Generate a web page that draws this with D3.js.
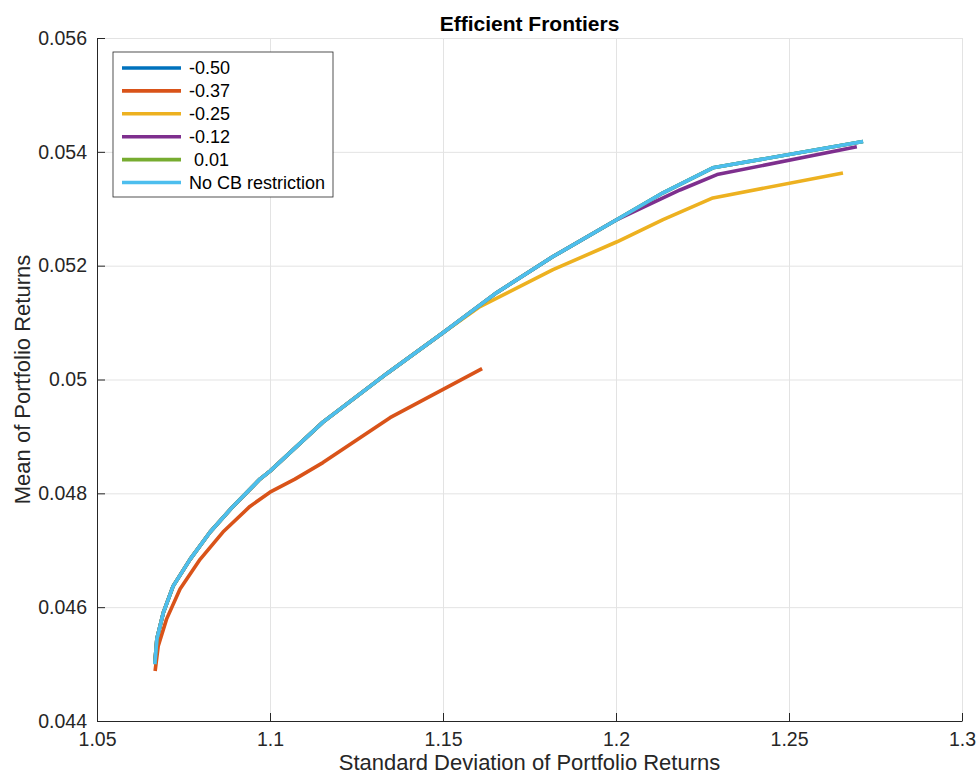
<!DOCTYPE html>
<html>
<head>
<meta charset="utf-8">
<script src="https://cdn.jsdelivr.net/npm/d3@7"></script>
<style>
  body { margin: 0; background: #fff; }
  svg { font-family: "Liberation Sans", Arial, Helvetica, sans-serif; }
  .grid line { stroke: #e3e3e3; stroke-width: 1; }
  .grid path { display: none; }
  .axis path, .axis line { stroke: #262626; }
  .axis text { fill: #262626; font-size: 19.5px; }
</style>
</head>
<body>
<svg id="chart" width="977" height="776"></svg>
<script>
// legend labels, in drawing order
const seriesNames = ["-0.50", "-0.37", "-0.25", "-0.12", " 0.01", "No CB restriction"];
const seriesColors = ["#0072BD", "#D95319", "#EDB120", "#7E2F8E", "#77AC30", "#4DBEEE"];

// No CB restriction frontier (std, mean)
const noCbStd = [1.0667, 1.0673, 1.0692, 1.0720, 1.0769, 1.0827, 1.0893, 1.0971, 1.1000, 1.1153, 1.1341, 1.1500, 1.1656, 1.1818, 1.2003, 1.2136, 1.2280, 1.2714];
const noCbMean = [0.04500, 0.04544, 0.04591, 0.04637, 0.04684, 0.04732, 0.04777, 0.04825, 0.04839, 0.04925, 0.05012, 0.05082, 0.05153, 0.05216, 0.05281, 0.05328, 0.05372, 0.05418];

// -0.50 and 0.01 lie under the No CB line
const m050Std = noCbStd.slice();
const m050Mean = noCbMean.slice();
const p001Std = noCbStd.slice();
const p001Mean = noCbMean.slice();

// -0.37
const m037Std = [1.0668, 1.0677, 1.0701, 1.0740, 1.0798, 1.0864, 1.0942, 1.1000, 1.1072, 1.1153, 1.1347, 1.1613];
const m037Mean = [0.04488, 0.04532, 0.04579, 0.04632, 0.04684, 0.04732, 0.04777, 0.04802, 0.04825, 0.04854, 0.04933, 0.05019];

// -0.25
const m025Std = [1.0667, 1.0673, 1.0692, 1.0720, 1.0769, 1.0827, 1.0893, 1.0971, 1.1000, 1.1153, 1.1341, 1.1500, 1.1607, 1.1818, 1.2003, 1.2136, 1.2280, 1.2656];
const m025Mean = [0.04500, 0.04544, 0.04591, 0.04637, 0.04684, 0.04732, 0.04777, 0.04825, 0.04839, 0.04925, 0.05012, 0.05082, 0.05128, 0.05193, 0.05242, 0.05281, 0.05319, 0.05363];

// -0.12
const m012Std = [1.0667, 1.0673, 1.0692, 1.0720, 1.0769, 1.0827, 1.0893, 1.0971, 1.1000, 1.1153, 1.1341, 1.1500, 1.1656, 1.1818, 1.2003, 1.2185, 1.2292, 1.2696];
const m012Mean = [0.04500, 0.04544, 0.04591, 0.04637, 0.04684, 0.04732, 0.04777, 0.04825, 0.04839, 0.04925, 0.05012, 0.05082, 0.05153, 0.05216, 0.05281, 0.05333, 0.05360, 0.05409];

const xTicks = [1.05, 1.1, 1.15, 1.2, 1.25, 1.3];
const yTicks = [0.044, 0.046, 0.048, 0.05, 0.052, 0.054, 0.056];

const seriesStd = [m050Std, m037Std, m025Std, m012Std, p001Std, noCbStd];
const seriesMean = [m050Mean, m037Mean, m025Mean, m012Mean, p001Mean, noCbMean];

const margin = { top: 38, right: 15, bottom: 55, left: 97 };
const width = 977 - margin.left - margin.right;
const height = 776 - margin.top - margin.bottom;

const svg = d3.select("#chart");
const g = svg.append("g").attr("transform", `translate(${margin.left},${margin.top})`);

const x = d3.scaleLinear().domain([1.05, 1.3]).range([0, width]);
const y = d3.scaleLinear().domain([0.044, 0.056]).range([height, 0]);

// grid
g.append("g").attr("class", "grid")
  .attr("transform", `translate(0,${height})`)
  .call(d3.axisBottom(x).tickValues(xTicks).tickSize(-height).tickFormat(""));
g.append("g").attr("class", "grid")
  .call(d3.axisLeft(y).tickValues(yTicks).tickSize(-width).tickFormat(""));

// axes (ticks pointing inward, like matlab)
const xAxis = g.append("g").attr("class", "axis")
  .attr("transform", `translate(0,${height})`)
  .call(d3.axisBottom(x).tickValues(xTicks).tickSizeInner(-8).tickSizeOuter(0).tickPadding(11)
    .tickFormat(d => d3.format("~g")(d)));
xAxis.selectAll("text").attr("dy", "0.71em");

g.append("g").attr("class", "axis")
  .call(d3.axisLeft(y).tickValues(yTicks).tickSizeInner(-8).tickSizeOuter(0).tickPadding(10)
    .tickFormat(d => d3.format("~g")(d)));

// lines
const line = d3.line()
  .x(d => x(d[0]))
  .y(d => y(d[1]));

seriesNames.forEach((name, i) => {
  const pts = seriesStd[i].map((s, j) => [s, seriesMean[i][j]]);
  g.append("path")
    .datum(pts)
    .attr("d", line)
    .attr("fill", "none")
    .attr("stroke", seriesColors[i])
    .attr("stroke-width", 3.6)
    .attr("stroke-linejoin", "round");
});

// title and labels
svg.append("text")
  .attr("x", margin.left + width / 2)
  .attr("y", 31)
  .attr("text-anchor", "middle")
  .style("font-size", "21px")
  .style("font-weight", "bold")
  .style("fill", "#000")
  .text("Efficient Frontiers");

svg.append("text")
  .attr("x", margin.left + width / 2)
  .attr("y", 770)
  .attr("text-anchor", "middle")
  .style("font-size", "22px")
  .style("fill", "#262626")
  .text("Standard Deviation of Portfolio Returns");

svg.append("text")
  .attr("transform", `translate(30,${margin.top + height / 2}) rotate(-90)`)
  .attr("text-anchor", "middle")
  .style("font-size", "22px")
  .style("fill", "#262626")
  .text("Mean of Portfolio Returns");

// legend
const legend = svg.append("g").attr("transform", "translate(113,52)");
legend.append("rect")
  .attr("width", 220)
  .attr("height", 145)
  .attr("fill", "#fff")
  .attr("stroke", "#262626")
  .attr("stroke-width", 0.8);

seriesNames.forEach((name, i) => {
  const row = legend.append("g").attr("transform", `translate(0,${16 + i * 22.9})`);
  row.append("line")
    .attr("x1", 9).attr("x2", 68)
    .attr("stroke", seriesColors[i])
    .attr("stroke-width", 3.6);
  row.append("text")
    .attr("x", 76)
    .attr("dy", "0.35em")
    .style("font-size", "18px")
    .style("fill", "#000")
    .attr("xml:space", "preserve")
    .text(name);
});
</script>
</body>
</html>
